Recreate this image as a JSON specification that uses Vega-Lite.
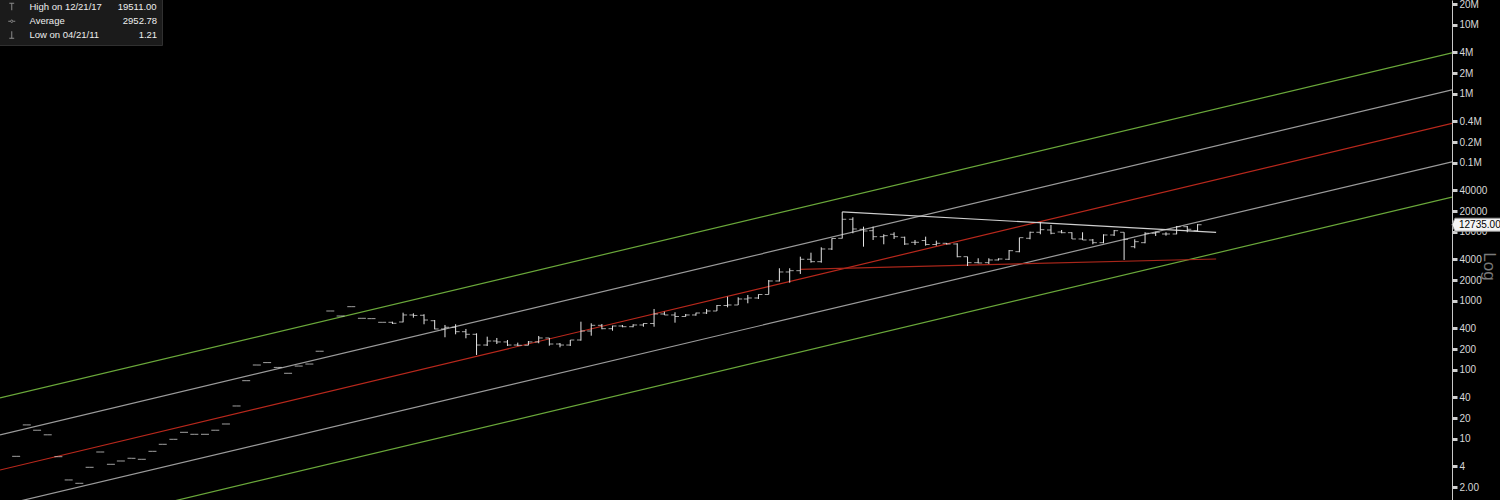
{
  "$schema": "https://vega.github.io/schema/vega-lite/v6.json",
  "width": 1452,
  "height": 500,
  "autosize": {"type": "none"},
  "padding": {"left": 0, "top": 0, "right": 48, "bottom": 0},
  "background": "#000000",
  "config": {"view": {"stroke": null}},
  "resolve": {"axis": {"y": "independent"}},
  "datasets": {
    "lines": [
      {"k": "g1", "d": "2011-03-15", "v": 39.3}, {"k": "g1", "d": "2022-10-12", "v": 3930000},
      {"k": "w1", "d": "2011-03-15", "v": 11.5}, {"k": "w1", "d": "2022-10-12", "v": 1150000},
      {"k": "r0", "d": "2011-03-15", "v": 3.55}, {"k": "r0", "d": "2022-10-12", "v": 375000},
      {"k": "w2", "d": "2011-03-15", "v": 1.08}, {"k": "w2", "d": "2022-10-12", "v": 104000},
      {"k": "g2", "d": "2011-03-15", "v": 0.318}, {"k": "g2", "d": "2022-10-12", "v": 32100},
      {"k": "res", "d": "2017-12-01", "v": 19511}, {"k": "res", "d": "2020-11-24", "v": 9900},
      {"k": "sup", "d": "2017-08-01", "v": 2880}, {"k": "sup", "d": "2020-11-24", "v": 4060}
    ],
    "bars": [
      {"d": "2011-05-01", "o": 5.61, "h": 5.61, "l": 5.61, "c": 5.61},
      {"d": "2011-06-01", "o": 16.0, "h": 16.0, "l": 16.0, "c": 16.0},
      {"d": "2011-07-01", "o": 13.4, "h": 13.4, "l": 13.4, "c": 13.4},
      {"d": "2011-08-01", "o": 11.5, "h": 11.5, "l": 11.5, "c": 11.5},
      {"d": "2011-09-01", "o": 5.54, "h": 5.54, "l": 5.54, "c": 5.54},
      {"d": "2011-10-01", "o": 2.55, "h": 2.55, "l": 2.55, "c": 2.55},
      {"d": "2011-11-01", "o": 2.28, "h": 2.28, "l": 2.28, "c": 2.28},
      {"d": "2011-12-01", "o": 3.89, "h": 3.89, "l": 3.89, "c": 3.89},
      {"d": "2012-01-01", "o": 6.48, "h": 6.48, "l": 6.48, "c": 6.48},
      {"d": "2012-02-01", "o": 4.30, "h": 4.30, "l": 4.30, "c": 4.30},
      {"d": "2012-03-01", "o": 4.80, "h": 4.80, "l": 4.80, "c": 4.80},
      {"d": "2012-04-01", "o": 5.25, "h": 5.25, "l": 5.25, "c": 5.25},
      {"d": "2012-05-01", "o": 5.08, "h": 5.08, "l": 5.08, "c": 5.08},
      {"d": "2012-06-01", "o": 6.63, "h": 6.63, "l": 6.63, "c": 6.63},
      {"d": "2012-07-01", "o": 8.38, "h": 8.38, "l": 8.38, "c": 8.38},
      {"d": "2012-08-01", "o": 9.90, "h": 9.90, "l": 9.90, "c": 9.90},
      {"d": "2012-09-01", "o": 12.5, "h": 12.5, "l": 12.5, "c": 12.5},
      {"d": "2012-10-01", "o": 11.7, "h": 11.7, "l": 11.7, "c": 11.7},
      {"d": "2012-11-01", "o": 11.7, "h": 11.7, "l": 11.7, "c": 11.7},
      {"d": "2012-12-01", "o": 13.4, "h": 13.4, "l": 13.4, "c": 13.4},
      {"d": "2013-01-01", "o": 16.5, "h": 16.5, "l": 16.5, "c": 16.5},
      {"d": "2013-02-01", "o": 30.1, "h": 30.1, "l": 30.1, "c": 30.1},
      {"d": "2013-03-01", "o": 70.0, "h": 70.0, "l": 70.0, "c": 70.0},
      {"d": "2013-04-01", "o": 118, "h": 118, "l": 118, "c": 118},
      {"d": "2013-05-01", "o": 128, "h": 128, "l": 128, "c": 128},
      {"d": "2013-06-01", "o": 109, "h": 109, "l": 109, "c": 109},
      {"d": "2013-07-01", "o": 89.6, "h": 89.6, "l": 89.6, "c": 89.6},
      {"d": "2013-08-01", "o": 114, "h": 114, "l": 114, "c": 114},
      {"d": "2013-09-01", "o": 122, "h": 122, "l": 122, "c": 122},
      {"d": "2013-10-01", "o": 187, "h": 187, "l": 187, "c": 187},
      {"d": "2013-11-01", "o": 716, "h": 716, "l": 716, "c": 716},
      {"d": "2013-12-01", "o": 606, "h": 606, "l": 606, "c": 606},
      {"d": "2014-01-01", "o": 827, "h": 827, "l": 827, "c": 827},
      {"d": "2014-02-01", "o": 561, "h": 561, "l": 561, "c": 561},
      {"d": "2014-03-01", "o": 555, "h": 555, "l": 555, "c": 555},
      {"d": "2014-04-01", "o": 491, "h": 491, "l": 491, "c": 491},
      {"d": "2014-05-01", "o": 491, "h": 501, "l": 464, "c": 475},
      {"d": "2014-06-01", "o": 496, "h": 677, "l": 491, "c": 627},
      {"d": "2014-07-01", "o": 627, "h": 663, "l": 573, "c": 617},
      {"d": "2014-08-01", "o": 621, "h": 642, "l": 460, "c": 530},
      {"d": "2014-09-01", "o": 518, "h": 530, "l": 389, "c": 393},
      {"d": "2014-10-01", "o": 393, "h": 449, "l": 298, "c": 416},
      {"d": "2014-11-01", "o": 416, "h": 460, "l": 329, "c": 359},
      {"d": "2014-12-01", "o": 359, "h": 393, "l": 288, "c": 329},
      {"d": "2015-01-01", "o": 329, "h": 340, "l": 165, "c": 230},
      {"d": "2015-02-01", "o": 230, "h": 304, "l": 223, "c": 263},
      {"d": "2015-03-01", "o": 263, "h": 291, "l": 238, "c": 255},
      {"d": "2015-04-01", "o": 255, "h": 272, "l": 223, "c": 230},
      {"d": "2015-05-01", "o": 230, "h": 249, "l": 223, "c": 228},
      {"d": "2015-06-01", "o": 228, "h": 263, "l": 228, "c": 255},
      {"d": "2015-07-01", "o": 255, "h": 311, "l": 244, "c": 291},
      {"d": "2015-08-01", "o": 291, "h": 291, "l": 225, "c": 238},
      {"d": "2015-09-01", "o": 238, "h": 246, "l": 213, "c": 230},
      {"d": "2015-10-01", "o": 230, "h": 272, "l": 223, "c": 272},
      {"d": "2015-11-01", "o": 272, "h": 501, "l": 266, "c": 367},
      {"d": "2015-12-01", "o": 367, "h": 475, "l": 314, "c": 444},
      {"d": "2016-01-01", "o": 444, "h": 464, "l": 389, "c": 397},
      {"d": "2016-02-01", "o": 397, "h": 439, "l": 371, "c": 434},
      {"d": "2016-03-01", "o": 434, "h": 449, "l": 416, "c": 424},
      {"d": "2016-04-01", "o": 424, "h": 460, "l": 416, "c": 449},
      {"d": "2016-05-01", "o": 449, "h": 475, "l": 424, "c": 472},
      {"d": "2016-06-01", "o": 472, "h": 766, "l": 424, "c": 648},
      {"d": "2016-07-01", "o": 648, "h": 700, "l": 627, "c": 627},
      {"d": "2016-08-01", "o": 627, "h": 686, "l": 485, "c": 596},
      {"d": "2016-09-01", "o": 596, "h": 648, "l": 592, "c": 627},
      {"d": "2016-10-01", "o": 627, "h": 677, "l": 612, "c": 670},
      {"d": "2016-11-01", "o": 670, "h": 766, "l": 648, "c": 716},
      {"d": "2016-12-01", "o": 716, "h": 875, "l": 716, "c": 861},
      {"d": "2017-01-01", "o": 861, "h": 1154, "l": 810, "c": 875},
      {"d": "2017-02-01", "o": 875, "h": 1131, "l": 875, "c": 1069},
      {"d": "2017-03-01", "o": 1069, "h": 1222, "l": 926, "c": 1105},
      {"d": "2017-04-01", "o": 1105, "h": 1251, "l": 1069, "c": 1242},
      {"d": "2017-05-01", "o": 1242, "h": 2015, "l": 1242, "c": 1949},
      {"d": "2017-06-01", "o": 1949, "h": 2978, "l": 1917, "c": 2633},
      {"d": "2017-07-01", "o": 2633, "h": 2978, "l": 1842, "c": 2749},
      {"d": "2017-08-01", "o": 2749, "h": 4385, "l": 2462, "c": 4022},
      {"d": "2017-09-01", "o": 4022, "h": 5012, "l": 3590, "c": 3712},
      {"d": "2017-10-01", "o": 3712, "h": 6001, "l": 3590, "c": 5670},
      {"d": "2017-11-01", "o": 5670, "h": 8102, "l": 5484, "c": 8050},
      {"d": "2017-12-01", "o": 8102, "h": 19511, "l": 8050, "c": 15283},
      {"d": "2018-01-01", "o": 15283, "h": 16334, "l": 9577, "c": 11053},
      {"d": "2018-02-01", "o": 10943, "h": 11935, "l": 6124, "c": 10339},
      {"d": "2018-03-01", "o": 10442, "h": 11935, "l": 7658, "c": 8552},
      {"d": "2018-04-01", "o": 8552, "h": 9263, "l": 6632, "c": 8842},
      {"d": "2018-05-01", "o": 9263, "h": 9901, "l": 7918, "c": 8552},
      {"d": "2018-06-01", "o": 8379, "h": 8552, "l": 6480, "c": 6700},
      {"d": "2018-07-01", "o": 7090, "h": 7658, "l": 6480, "c": 7090},
      {"d": "2018-08-01", "o": 7531, "h": 8552, "l": 6331, "c": 6590},
      {"d": "2018-09-01", "o": 6590, "h": 7481, "l": 6331, "c": 6858},
      {"d": "2018-10-01", "o": 6858, "h": 6928, "l": 6590, "c": 6700},
      {"d": "2018-11-01", "o": 6700, "h": 6858, "l": 4299, "c": 4385},
      {"d": "2018-12-01", "o": 4385, "h": 4385, "l": 3215, "c": 3590},
      {"d": "2019-01-01", "o": 3590, "h": 4158, "l": 3518, "c": 3553},
      {"d": "2019-02-01", "o": 3590, "h": 4158, "l": 3437, "c": 3928},
      {"d": "2019-03-01", "o": 3928, "h": 4158, "l": 3864, "c": 4062},
      {"d": "2019-04-01", "o": 4022, "h": 5484, "l": 3928, "c": 5358},
      {"d": "2019-05-01", "o": 5182, "h": 8271, "l": 5079, "c": 8271},
      {"d": "2019-06-01", "o": 8102, "h": 10100, "l": 7839, "c": 9901},
      {"d": "2019-07-01", "o": 9901, "h": 13822, "l": 9263, "c": 10798},
      {"d": "2019-08-01", "o": 10686, "h": 12630, "l": 9263, "c": 9577},
      {"d": "2019-09-01", "o": 10000, "h": 10686, "l": 9577, "c": 9770},
      {"d": "2019-10-01", "o": 9770, "h": 9901, "l": 7918, "c": 7918},
      {"d": "2019-11-01", "o": 7918, "h": 9901, "l": 7658, "c": 7658},
      {"d": "2019-12-01", "o": 7658, "h": 7918, "l": 6632, "c": 6997},
      {"d": "2020-01-01", "o": 6997, "h": 9263, "l": 6858, "c": 9047},
      {"d": "2020-02-01", "o": 9047, "h": 10686, "l": 8750, "c": 10442},
      {"d": "2020-03-01", "o": 9901, "h": 9901, "l": 3928, "c": 7839},
      {"d": "2020-04-01", "o": 6124, "h": 7839, "l": 5803, "c": 7234},
      {"d": "2020-05-01", "o": 6997, "h": 9901, "l": 6858, "c": 9577},
      {"d": "2020-06-01", "o": 9577, "h": 10100, "l": 8750, "c": 9901},
      {"d": "2020-07-01", "o": 9354, "h": 9901, "l": 8842, "c": 9354},
      {"d": "2020-08-01", "o": 9354, "h": 12218, "l": 9263, "c": 11935},
      {"d": "2020-09-01", "o": 11935, "h": 12218, "l": 9901, "c": 10943},
      {"d": "2020-10-01", "o": 10442, "h": 13000, "l": 10339, "c": 12735}
    ],
    "stats": [
      {"e": "High on 12/21/17\u00a0\u00a0\u00a0\u00a0\u00a0\u00a019511.00", "d": "2017-12-21", "v": 19511},
      {"e": "Average\u00a0\u00a0\u00a0\u00a0\u00a0\u00a0\u00a0\u00a0\u00a0\u00a0\u00a0\u00a0\u00a0\u00a0\u00a0\u00a0\u00a0\u00a0\u00a0\u00a0\u00a0\u00a02952.78", "d": "2017-12-21", "v": 2952.78},
      {"e": "Low on 04/21/11\u00a0\u00a0\u00a0\u00a0\u00a0\u00a0\u00a0\u00a0\u00a0\u00a0\u00a0\u00a0\u00a0\u00a0\u00a01.21", "d": "2011-04-21", "v": 1.21}
    ],
    "last": [{"v": 12735}]
  },
  "layer": [
    {
      "data": {"name": "lines"},
      "mark": {"type": "line", "clip": true, "strokeWidth": 1.2},
      "encoding": {
        "x": {"field": "d", "type": "temporal", "axis": null,
              "scale": {"domain": [{"year": 2011, "month": 3, "date": 15, "utc": true}, {"year": 2022, "month": 10, "date": 12, "utc": true}]}},
        "y": {"field": "v", "type": "quantitative", "axis": null,
              "scale": {"type": "log", "domain": [1.306, 23000000], "nice": false}},
        "color": {"field": "k", "type": "nominal", "legend": null,
                  "scale": {"domain": ["g1", "w1", "r0", "w2", "g2", "res", "sup"],
                            "range": ["#6aa83a", "#9b9b9b", "#b8281c", "#9b9b9b", "#6aa83a", "#cfcfcf", "#a8261a"]}}
      }
    },
    {
      "data": {"name": "bars"},
      "mark": {"type": "rule", "clip": true, "strokeWidth": 1, "color": "#e6e6e6"},
      "encoding": {
        "x": {"field": "d", "type": "temporal", "axis": null,
              "scale": {"domain": [{"year": 2011, "month": 3, "date": 15, "utc": true}, {"year": 2022, "month": 10, "date": 12, "utc": true}]}},
        "y": {"field": "l", "type": "quantitative",
              "scale": {"type": "log", "domain": [1.306, 23000000], "nice": false},
              "axis": {
                "orient": "right",
                "values": [2, 4, 10, 20, 40, 100, 200, 400, 1000, 2000, 4000, 10000, 20000, 40000, 100000, 200000, 400000, 1000000, 2000000, 4000000, 10000000, 20000000],
                "labelExpr": "datum.value >= 100000 ? format(datum.value / 1000000, '~g') + 'M' : (datum.value == 2 ? '2.00' : format(datum.value, 'd'))",
                "labelColor": "#d8d8d8", "labelFont": "Liberation Sans", "labelFontSize": 10,
                "labelPadding": 2, "labelOverlap": false, "labelBound": false, "labelFlush": false,
                "tickColor": "#d0d0d0", "tickSize": 5, "tickWidth": 3,
                "domainColor": "#c8c8c8", "domainWidth": 1, "grid": false,
                "title": "Log", "titleColor": "#7a7a7a", "titleFont": "Liberation Sans", "titleFontSize": 17,
                "titleFontWeight": "normal", "titleAngle": 90, "titleX": 36, "titleY": 266,
                "titleAlign": "center", "titleBaseline": "middle"
              }},
        "y2": {"field": "h"}
      }
    },
    {
      "data": {"name": "bars"},
      "mark": {"type": "tick", "orient": "horizontal", "clip": true, "size": 4, "thickness": 1, "xOffset": -2, "color": "#e6e6e6"},
      "encoding": {
        "x": {"field": "d", "type": "temporal", "axis": null,
              "scale": {"domain": [{"year": 2011, "month": 3, "date": 15, "utc": true}, {"year": 2022, "month": 10, "date": 12, "utc": true}]}},
        "y": {"field": "o", "type": "quantitative", "axis": null,
              "scale": {"type": "log", "domain": [1.306, 23000000], "nice": false}}
      }
    },
    {
      "data": {"name": "bars"},
      "mark": {"type": "tick", "orient": "horizontal", "clip": true, "size": 4, "thickness": 1, "xOffset": 2, "color": "#e6e6e6"},
      "encoding": {
        "x": {"field": "d", "type": "temporal", "axis": null,
              "scale": {"domain": [{"year": 2011, "month": 3, "date": 15, "utc": true}, {"year": 2022, "month": 10, "date": 12, "utc": true}]}},
        "y": {"field": "c", "type": "quantitative", "axis": null,
              "scale": {"type": "log", "domain": [1.306, 23000000], "nice": false}}
      }
    },
    {
      "data": {"name": "stats"},
      "mark": {"type": "point", "clip": true, "opacity": 0},
      "encoding": {
        "x": {"field": "d", "type": "temporal", "axis": null,
              "scale": {"domain": [{"year": 2011, "month": 3, "date": 15, "utc": true}, {"year": 2022, "month": 10, "date": 12, "utc": true}]}},
        "y": {"field": "v", "type": "quantitative", "axis": null,
              "scale": {"type": "log", "domain": [1.306, 23000000], "nice": false}},
        "shape": {"field": "e", "type": "nominal",
                  "scale": {"domain": ["High on 12/21/17\u00a0\u00a0\u00a0\u00a0\u00a0\u00a019511.00", "Average\u00a0\u00a0\u00a0\u00a0\u00a0\u00a0\u00a0\u00a0\u00a0\u00a0\u00a0\u00a0\u00a0\u00a0\u00a0\u00a0\u00a0\u00a0\u00a0\u00a0\u00a0\u00a02952.78", "Low on 04/21/11\u00a0\u00a0\u00a0\u00a0\u00a0\u00a0\u00a0\u00a0\u00a0\u00a0\u00a0\u00a0\u00a0\u00a0\u00a01.21"],
                            "range": ["M-0.7,-1L0.7,-1M0,-1L0,1", "M-1,0L-0.45,0M0.45,0L1,0M-0.35,0A0.35,0.35 0 1,0 0.35,0A0.35,0.35 0 1,0 -0.35,0", "M0,-1L0,1M-0.7,1L0.7,1"]},
                  "legend": {
                    "title": null, "orient": "none", "legendX": -1, "legendY": -2, "padding": 4,
                    "fillColor": "#1b1b1b", "strokeColor": "#303030",
                    "labelColor": "#eeeeee", "labelFont": "Liberation Sans", "labelFontSize": 9.5, "labelLimit": 300,
                    "labelOffset": 13, "symbolOffset": 4, "symbolSize": 49,
                    "symbolStrokeColor": "#8a8a8a", "symbolFillColor": "transparent", "symbolStrokeWidth": 1, "symbolOpacity": 1,
                    "rowPadding": 2.5
                  }}
      }
    },
    {
      "data": {"name": "last"},
      "mark": {"type": "point", "clip": false, "filled": true, "size": 10000,
               "shape": "M0,0L0.06,-0.13L1,-0.13L1,0.13L0.06,0.13Z",
               "fill": "#f4f4f4", "stroke": "#9a9a9a", "strokeWidth": 1, "opacity": 1},
      "encoding": {
        "x": {"datum": {"year": 2022, "month": 10, "date": 12, "utc": true}, "type": "temporal", "axis": null,
              "scale": {"domain": [{"year": 2011, "month": 3, "date": 15, "utc": true}, {"year": 2022, "month": 10, "date": 12, "utc": true}]}},
        "y": {"field": "v", "type": "quantitative", "axis": null,
              "scale": {"type": "log", "domain": [1.306, 23000000], "nice": false}}
      }
    },
    {
      "data": {"name": "last"},
      "mark": {"type": "text", "clip": false, "align": "left", "baseline": "middle", "dx": 7,
               "font": "Liberation Sans", "fontSize": 10, "color": "#000000"},
      "encoding": {
        "x": {"datum": {"year": 2022, "month": 10, "date": 12, "utc": true}, "type": "temporal", "axis": null,
              "scale": {"domain": [{"year": 2011, "month": 3, "date": 15, "utc": true}, {"year": 2022, "month": 10, "date": 12, "utc": true}]}},
        "y": {"field": "v", "type": "quantitative", "axis": null,
              "scale": {"type": "log", "domain": [1.306, 23000000], "nice": false}},
        "text": {"field": "v", "type": "quantitative", "format": ".2f"}
      }
    }
  ]
}
